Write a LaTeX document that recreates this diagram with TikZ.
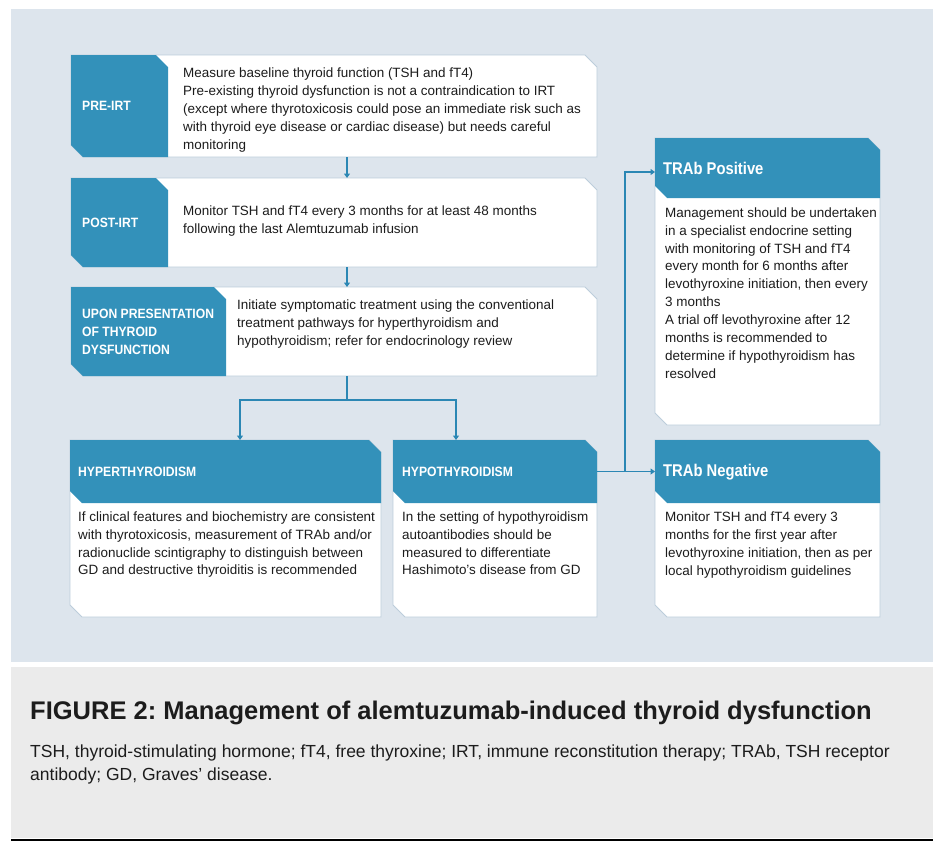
\documentclass[tikz,border=0pt]{standalone}
\usepackage{fontspec}
\setmainfont{Liberation Sans}
\newfontfamily\lblfont[FakeStretch=0.9]{Liberation Sans Bold}
\newfontfamily\headfont[FakeStretch=0.87]{Liberation Sans Bold}
\newfontfamily\capfont{Liberation Sans Bold}
\usetikzlibrary{fit,calc,arrows.meta}
\frenchspacing
\definecolor{panel}{HTML}{DDE5ED}
\definecolor{capbg}{HTML}{EBEBEB}
\definecolor{hblue}{HTML}{3391BA}
\definecolor{lineblue}{HTML}{2B87B4}
\definecolor{edge}{HTML}{BCCDDB}
\definecolor{txt}{HTML}{1C1C1C}
\newcommand\chamfer[3]{%
  \path[#3] (#1.north west) -- ([xshift=-#2pt]#1.north east) -- ([yshift=-#2pt]#1.north east)
    -- (#1.south east) -- ([xshift=#2pt]#1.south west) -- ([yshift=#2pt]#1.south west) -- cycle;}
\tikzset{
  region/.style={inner sep=0pt, outer sep=0pt},
  boxshape/.style={fill=white, draw=edge, line width=0.9pt},
  labshape/.style={fill=hblue},
  conn/.style={draw=lineblue, line width=1.5pt},
  arr/.style={conn, -{Triangle[width=6pt,length=4.5pt]}},
  body/.style={anchor=north west, inner sep=0pt, align=left, text=txt,
    font=\fontsize{13.45}{17.9}\selectfont},
  lbl/.style={anchor=west, inner sep=0pt, align=left, text=white,
    font=\lblfont\fontsize{13.5}{18}\selectfont},
  hd/.style={anchor=west, inner sep=0pt, text=white,
    font=\headfont\fontsize{17}{20}\selectfont},
}
\begin{document}
\begin{tikzpicture}[x=1pt,y=-1pt]
\useasboundingbox (0,0) rectangle (933,841);
\fill[white] (0,0) rectangle (933,841);
% panels
\fill[panel] (11,9) rectangle (933,662);
\fill[capbg] (11,667) rectangle (933,838);
\fill[black] (11,838.5) rectangle (933,841);

% regions
\node[region, fit={(71,55) (597,157)}] (pre) {};
\node[region, fit={(71,55) (168,157)}] (preL) {};
\node[region, fit={(71,178) (597,267)}] (post) {};
\node[region, fit={(71,178) (168,267)}] (postL) {};
\node[region, fit={(71,287) (597,376)}] (upon) {};
\node[region, fit={(71,287) (226,376)}] (uponL) {};
\node[region, fit={(70,440) (381,617)}] (hyper) {};
\node[region, fit={(70,440) (381,503)}] (hyperH) {};
\node[region, fit={(393,440) (597,617)}] (hypo) {};
\node[region, fit={(393,440) (597,503)}] (hypoH) {};
\node[region, fit={(655,138) (880,425)}] (pos) {};
\node[region, fit={(655,138) (880,198)}] (posH) {};
\node[region, fit={(655,440) (880,617)}] (neg) {};
\node[region, fit={(655,440) (880,503)}] (negH) {};

% shapes
\chamfer{pre}{12}{boxshape}
\chamfer{preL}{12}{labshape}
\chamfer{post}{12}{boxshape}
\chamfer{postL}{12}{labshape}
\chamfer{upon}{12}{boxshape}
\chamfer{uponL}{12}{labshape}
\chamfer{hyper}{12}{boxshape}
\chamfer{hyperH}{12}{labshape}
\chamfer{hypo}{12}{boxshape}
\chamfer{hypoH}{12}{labshape}
\chamfer{pos}{12}{boxshape}
\chamfer{posH}{12}{labshape}
\chamfer{neg}{12}{boxshape}
\chamfer{negH}{12}{labshape}

% labels
\node[lbl] (preLab) at (82,106) {PRE-IRT};
\node[lbl] (postLab) at (82,222.5) {POST-IRT};
\node[lbl] (uponLab) at (82,331.5) {UPON PRESENTATION\\OF THYROID\\DYSFUNCTION};
\node[lbl] (hyperLab) at (78,471.5) {HYPERTHYROIDISM};
\node[lbl] (hypoLab) at (402,471.5) {HYPOTHYROIDISM};
\node[hd] (posLab) at (663,168) {TRAb Positive};
\node[hd] (negLab) at (663,472) {TRAb Negative};

% body texts
\node[body] (preT) at (183,65) {\strut Measure baseline thyroid function (TSH and fT4)\\
Pre-existing thyroid dysfunction is not a contraindication to IRT\\
(except where thyrotoxicosis could pose an immediate risk such as\\
with thyroid eye disease or cardiac disease) but needs careful\\
monitoring};
\node[body] (postT) at (183,202.5) {\strut Monitor TSH and fT4 every 3 months for at least 48 months\\
following the last Alemtuzumab infusion};
\node[body] (uponT) at (237,297) {\strut Initiate symptomatic treatment using the conventional\\
treatment pathways for hyperthyroidism and\\
hypothyroidism; refer for endocrinology review};
\node[body] (hyperT) at (78,508.5) {\strut If clinical features and biochemistry are consistent\\
with thyrotoxicosis, measurement of TRAb and/or\\
radionuclide scintigraphy to distinguish between\\
GD and destructive thyroiditis is recommended};
\node[body] (hypoT) at (402,508.5) {\strut In the setting of hypothyroidism\\
autoantibodies should be\\
measured to differentiate\\
Hashimoto’s disease from GD};
\node[body] (posT) at (665,204.5) {\strut Management should be undertaken\\
in a specialist endocrine setting\\
with monitoring of TSH and fT4\\
every month for 6 months after\\
levothyroxine initiation, then every\\
3 months\\
A trial off levothyroxine after 12\\
months is recommended to\\
determine if hypothyroidism has\\
resolved};
\node[body] (negT) at (665,509) {\strut Monitor TSH and fT4 every 3\\
months for the first year after\\
levothyroxine initiation, then as per\\
local hypothyroidism guidelines};

% connectors
\coordinate (split) at (347,400);
\draw[arr] (pre.south -| split) -- (post.north -| split);
\draw[arr] (post.south -| split) -- (upon.north -| split);
\draw[conn] (upon.south -| split) -- (split);
\draw[arr] (split) -| ([xshift=14.5pt]hyper.north);
\draw[arr] (split) -| ([xshift=-39pt]hypo.north);
\draw[arr] (hypoH.east) -- (negH.west);
\coordinate (br) at ($(hypoH.east)!0.48!(negH.west)$);
\draw[arr] (br) |- ([yshift=-4pt]posH.west);

% caption
\node[anchor=base west, inner sep=0pt, text=txt, font=\capfont\fontsize{25.5}{30}\selectfont] (title) at (30,719)
  {FIGURE 2: Management of alemtuzumab-induced thyroid dysfunction};
\node[anchor=north west, inner sep=0pt, align=left, text=txt, font=\fontsize{17.5}{23}\selectfont] (legend) at (30,741)
  {\strut TSH, thyroid-stimulating hormone; fT4, free thyroxine; IRT, immune reconstitution therapy; TRAb, TSH receptor\\
  antibody; GD, Graves’ disease.};
\end{tikzpicture}
\end{document}
